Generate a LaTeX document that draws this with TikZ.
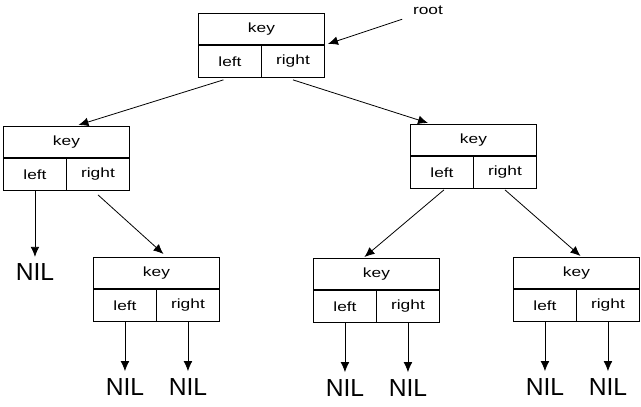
\documentclass[tikz,border=0pt]{standalone}
\usepackage{fontspec}
\setmainfont{Liberation Sans}
\newfontfamily\cellfont[FakeStretch=1.3]{Liberation Sans}
\usetikzlibrary{positioning,arrows.meta}

\tikzstyle{keycell}=[rectangle,minimum width=94.5pt,minimum height=23.25pt,inner sep=0pt,text centered,draw=black,line width=0.7pt,font=\cellfont\fontsize{10}{12}\selectfont]
\tikzstyle{halfcell}=[rectangle,minimum width=47.25pt,minimum height=24pt,inner sep=0pt,text centered,draw=black,line width=0.7pt,font=\cellfont\fontsize{10}{12}\selectfont]
\tikzstyle{nil}=[inner sep=5pt,font=\fontsize{18.5}{20}\selectfont]

\begin{document}
\begin{tikzpicture}[x=0.75pt,y=-0.75pt,>={Latex[length=7.5pt,width=6.5pt]},line width=0.6pt]
\useasboundingbox (0,0) rectangle (641,406);
\node(rootkey)[keycell,anchor=north west] at (198,13) {key};
\node(rootleft)[halfcell,anchor=north west] at (rootkey.south west) {left};
\node(rootright)[halfcell,anchor=north east] at (rootkey.south east) {right};
\node(rootlabel)[font=\cellfont\fontsize{10}{12}\selectfont] at (428,10) {root};
\draw[->]([xshift=-4.5pt]rootlabel.south west)--([xshift=2.25pt,yshift=0.75pt]rootkey.south east);

\node(lkey)[keycell,anchor=north west] at (3,126) {key};
\node(lleft)[halfcell,anchor=north west] at (lkey.south west) {left};
\node(lright)[halfcell,anchor=north east] at (lkey.south east) {right};
\node(rkey)[keycell,anchor=north west] at (410,124) {key};
\node(rleft)[halfcell,anchor=north west] at (rkey.south west) {left};
\node(rright)[halfcell,anchor=north east] at (rkey.south east) {right};
\draw[->]([xshift=-4.9pt,yshift=-1.5pt]rootleft.south)--([xshift=9pt,yshift=0.75pt]lkey.north);
\draw[->]([yshift=-1.5pt]rootright.south)--([xshift=13.5pt,yshift=0.75pt]rkey.north west);

\node(lnil)[nil,below=49.5pt of lleft]{NIL};
\draw[->](lleft)--(lnil);

\node(lrkey)[keycell,anchor=north west] at (93,257) {key};
\node(lrleft)[halfcell,anchor=north west] at (lrkey.south west) {left};
\node(lrright)[halfcell,anchor=north east] at (lrkey.south east) {right};
\draw[->]([yshift=-3pt]lright.south)--([xshift=5.25pt,yshift=2.25pt]lrkey.north);
\node(lrlnil)[nil,below=37pt of lrleft]{NIL};
\node(lrrnil)[nil,below=37pt of lrright]{NIL};
\draw[->](lrleft)--(lrlnil);
\draw[->](lrright)--(lrrnil);

\node(rlkey)[keycell,anchor=north west] at (313,258) {key};
\node(rlleft)[halfcell,anchor=north west] at (rlkey.south west) {left};
\node(rlright)[halfcell,anchor=north east] at (rlkey.south east) {right};
\draw[->]([xshift=1.5pt,yshift=-0.75pt]rleft.south)--([xshift=-9pt,yshift=0.75pt]rlkey.north);
\node(rllnil)[nil,below=37pt of rlleft]{NIL};
\node(rlrnil)[nil,below=37pt of rlright]{NIL};
\draw[->](rlleft)--(rllnil);
\draw[->](rlright)--(rlrnil);

\node(rrkey)[keycell,anchor=north west] at (513,257) {key};
\node(rrleft)[halfcell,anchor=north west] at (rrkey.south west) {left};
\node(rrright)[halfcell,anchor=north east] at (rrkey.south east) {right};
\draw[->]([yshift=-0.75pt]rright.south)--([xshift=3pt,yshift=0.75pt]rrkey.north);
\node(rrlnil)[nil,below=37pt of rrleft]{NIL};
\node(rrrnil)[nil,below=37pt of rrright]{NIL};
\draw[->](rrleft)--(rrlnil);
\draw[->](rrright)--(rrrnil);
\end{tikzpicture}
\end{document}
